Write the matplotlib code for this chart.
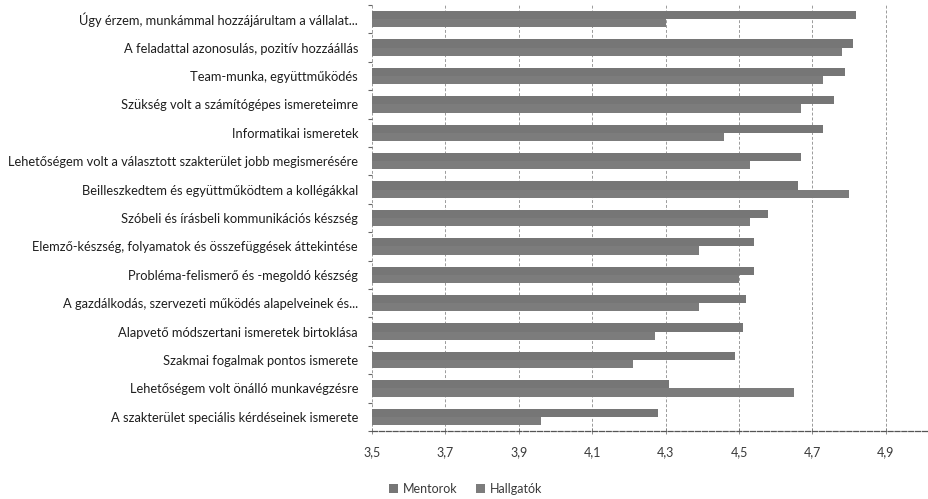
import matplotlib
matplotlib.use("Agg")
import matplotlib.pyplot as plt
import numpy as np

plt.rcParams['font.family'] = ['Lato', 'DejaVu Sans']

categories = [
    "Úgy érzem, munkámmal hozzájárultam a vállalat...",
    "A feladattal azonosulás, pozitív hozzáállás",
    "Team-munka, együttműködés",
    "Szükség volt a számítógépes ismereteimre",
    "Informatikai ismeretek",
    "Lehetőségem volt a választott szakterület jobb megismerésére",
    "Beilleszkedtem és együttműködtem a kollégákkal",
    "Szóbeli és írásbeli kommunikációs készség",
    "Elemző-készség, folyamatok és összefüggések áttekintése",
    "Probléma-felismerő és -megoldó készség",
    "A gazdálkodás, szervezeti működés alapelveinek és...",
    "Alapvető módszertani ismeretek birtoklása",
    "Szakmai fogalmak pontos ismerete",
    "Lehetőségem volt önálló munkavégzésre",
    "A szakterület speciális kérdéseinek ismerete",
]

mentorok = [4.82, 4.81, 4.79, 4.76, 4.73, 4.67, 4.66, 4.58, 4.54, 4.54,
            4.52, 4.51, 4.49, 4.31, 4.28]
hallgatok = [4.30, 4.78, 4.73, 4.67, 4.46, 4.53, 4.80, 4.53, 4.39, 4.50,
             4.39, 4.27, 4.21, 4.65, 3.96]

series_names = ["Mentorok", "Hallgatók"]
x_ticks = [3.5, 3.7, 3.9, 4.1, 4.3, 4.5, 4.7, 4.9]
x_min, x_max = 3.5, 5.1

fig = plt.figure(figsize=(9.29, 4.99), dpi=100)
ax = fig.add_axes([372 / 929, 68 / 499, (367 * 1.6) / 929, 426 / 499])

y = np.arange(len(categories))
h = 0.29
base = x_min
ax.barh(y - h / 2, np.array(mentorok) - base, left=base, height=h,
        color="#767676", label=series_names[0], zorder=3)
ax.barh(y + h / 2, np.array(hallgatok) - base, left=base, height=h,
        color="#7c7c7c", label=series_names[1], zorder=3)

ax.set_xlim(x_min, x_max)
ax.set_ylim(len(categories) - 0.5, -0.5)

ax.set_xticks(x_ticks)
ax.set_xticklabels([f"{t:.1f}".replace(".", ",") for t in x_ticks],
                   fontsize=9, color="#3a3a3a")
ax.set_yticks(y)
ax.set_yticklabels(categories, fontsize=9.3, color="#1e1e1e")
ax.tick_params(axis="y", length=0, pad=10)
ax.set_yticks(np.arange(-0.5, len(categories), 1.0), minor=True)
ax.tick_params(axis="y", which="minor", length=3, width=0.8, color="#666666")
ax.tick_params(axis="x", length=4, width=0.6, color="#777777", direction="inout", pad=9)

ax.grid(axis="x", color="#9a9a9a", linewidth=0.7, linestyle=(0, (3, 2)), zorder=0)
for side in ("top", "right", "left"):
    ax.spines[side].set_visible(False)
ax.spines["bottom"].set_color("#555555")
ax.spines["bottom"].set_linewidth(0.9)
ax.spines["bottom"].set_linestyle((0, (4, 1.5)))

fig.legend(loc="center", bbox_to_anchor=(466 / 929, 1 - 489 / 499), ncol=2,
           frameon=False, fontsize=9, handlelength=0.7, handleheight=0.7,
           handletextpad=0.4, columnspacing=1.5, labelcolor="#3a3a3a")

fig.savefig("out.png", dpi=100, facecolor="white")
